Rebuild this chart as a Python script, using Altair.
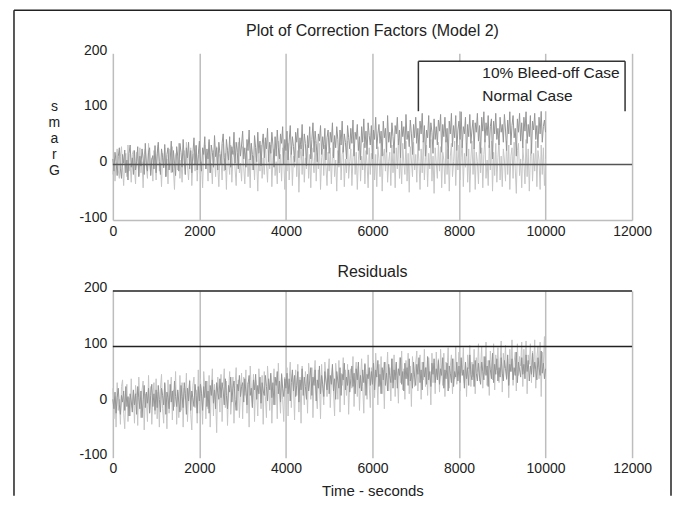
import altair as alt
import pandas as pd

# ---------------- data ----------------
time_s = list(range(0, 10001, 25))

bleed_off = [
    10, -12, 22, 5, -20, 14, 30, -8, -25, 18, 2, 26, -15, 8, -28, 20, 35, -5, 12, -18,
    25, -10, 6, 32, -22, 15, -3, 28, 10, -18, 38, 0, -12, 22, 30, -20, 8, 16, -8, 34,
    -15, 20, 40, 5, -18, 28, 12, -6, 36, -22, 18, 30, -10, 8, 42, -14, 25, 2, -20, 32,
    15, -12, 38, 22, -5, 45, 8, -18, 30, 12, 40, -8, 25, -15, 20, 48, 0, 34, -10, 18,
    42, 5, -12, 30, 18, 50, -8, 28, 10, 45, -15, 35, 22, -5, 52, 14, 30, -10, 40, 20,
    0, 38, 55, 12, -10, 45, 25, 8, 50, -5, 32, 18, 58, 2, 40, 22, -8, 48, 15, 35,
    60, 10, 30, -5, 45, 25, 62, 8, 38, 18, -10, 52, 30, 5, 58, 20, 42, -2, 35, 55,
    12, 48, 28, 65, 5, 40, 20, 58, 35, -5, 50, 15, 62, 30, 10, 55, 38, 68, 0, 45,
    25, 60, 8, 42, 70, 18, 50, 32, 5, 58, 40, 65, 12, 48, 28, 72, 15, 55, 38, -2,
    52, 30, 68, 10, 45, 75, 22, 60, 38, 5, 55, 42, 70, 18, 50, 28, 65, 8, 48, 62,
    20, 58, 40, 75, 12, 52, 30, 68, 45, 2, 62, 35, 78, 22, 55, 40, 10, 70, 48, 28,
    65, 38, 80, 15, 58, 45, 72, 25, 50, 8, 68, 40, 82, 30, 60, 18, 75, 52, 35, 70,
    10, 62, 45, 85, 28, 55, 72, 38, 60, 15, 78, 48, 65, 22, 88, 40, 58, 30, 75, 50,
    20, 70, 55, 85, 35, 62, 12, 78, 50, 68, 28, 90, 45, 60, 32, 80, 55, 18, 72, 48,
    85, 38, 65, 25, 78, 55, 92, 40, 70, 15, 62, 48, 88, 30, 75, 58, 20, 82, 45, 68,
    35, 80, 60, 90, 22, 72, 50, 85, 40, 65, 10, 78, 55, 92, 32, 70, 48, 88, 25, 62,
    78, 45, 95, 30, 68, 55, 85, 15, 72, 50, 90, 38, 62, 80, 28, 75, 58, 92, 42, 70,
    20, 85, 60, 95, 40, 75, 52, 88, 30, 68, 82, 10, 78, 55, 92, 45, 65, 35, 85, 58,
    72, 40, 90, 62, 25, 80, 55, 95, 35, 70, 88, 48, 65, 15, 82, 58, 92, 42, 75, 30,
    85, 60, 95, 38, 72, 50, 88, 20, 78, 62, 92, 45, 70, 30, 85, 55, 96, 40, 68, 80, 58,
]

normal_case = [
    -18, 12, -30, 5, 28, -10, -25, 15, 32, -5, -38, 8, 20, -22, 35, -12, 2, -32, 18, 25,
    -8, -35, 22, 10, -20, 30, -15, 5, -42, 18, 28, -6, -25, 38, 0, -18, 12, -30, 25, 8,
    -28, 15, 35, -12, 2, -40, 20, -5, 30, -22, 10, -35, 28, 5, -15, 32, -8, -45, 18, 22,
    -10, 38, -25, 8, -32, 15, 25, -18, 40, -2, -28, 12, 30, -38, 5, 20, -12, 35, -30, 10,
    28, -20, 5, -42, 22, 35, -8, 15, -30, 40, -15, 2, -35, 25, 10, -22, 32, -5, -40, 18,
    8, -28, 38, -12, 20, -45, 30, 5, -18, 35, -32, 12, 25, -8, -38, 22, 40, -15, 2, -30,
    32, -5, -35, 18, 28, -22, 10, -42, 38, -10, 15, -28, 30, 5, -48, 20, -12, 35, -25, 12,
    -18, 40, 2, -32, 25, -8, 35, -40, 12, 28, -20, 5, -35, 42, -15, 18, -30, 30, 8, -45,
    22, -12, 38, -28, 10, 32, -38, 15, -5, 40, -22, 25, -50, 8, 35, -18, 28, -32, 12, -8,
    35, -25, 18, -42, 30, 5, -15, 42, -30, 20, -8, 38, -45, 12, 28, -20, 35, -5, -38, 22,
    -12, 30, -35, 15, 40, -22, 8, -48, 25, -5, 38, -28, 18, 32, -40, 10, -15, 42, -25, 5,
    28, -38, 12, 35, -18, 22, -45, 8, 40, -30, 15, -10, 38, -35, 25, 2, -42, 30, -18, 20,
    -5, 42, -28, 18, -40, 32, 10, -22, 38, -48, 15, 28, -12, 40, -32, 5, 22, -38, 35, -15,
    25, -42, 30, -8, 45, -25, 12, -35, 38, 2, -18, 42, -30, 20, -50, 32, 8, -22, 40, -10,
    18, -32, 38, 5, -45, 28, -15, 42, -28, 12, 35, -40, 20, -8, 45, -30, 15, -52, 30, 2,
    -25, 40, -12, 32, -42, 22, 8, -35, 45, -18, 28, -48, 15, 38, -22, 5, 42, -38, 25, -10,
    35, -28, 12, 45, -40, 20, -5, 38, -32, 28, -50, 10, 42, -18, 30, -45, 22, 5, -35, 40,
    -15, 30, -42, 18, 45, -25, 8, -38, 35, -10, 42, -48, 22, -20, 38, -32, 12, 45, -28, 15,
    -40, 28, 8, -30, 42, -18, 35, -45, 15, 30, -25, 40, -8, -52, 25, 38, -20, 10, -42, 32,
    5, -35, 45, -22, 28, -48, 15, 38, -30, 20, -12, 42, -40, 25, 8, -45, 35, -18, 30, -38, 10,
]

resid_light = [
    25, -30, 10, -45, 35, -15, 5, -40, 28, 40, -20, -48, 15, 32, -35, 8, -25, 42, -10, 20,
    -38, 30, 12, -42, 45, -5, -28, 22, 38, -50, 15, 5, -35, 48, -18, 28, -40, 10, 35, -22,
    42, -30, 18, -45, 25, 50, -12, -38, 32, 8, -48, 40, -20, 15, 45, -32, 22, -8, 55, -40,
    18, -28, 48, -15, 35, -45, 25, 5, 52, -35, 12, 40, -22, -50, 30, 45, -10, 22, -38, 58,
    -20, 42, 10, -40, 55, 25, -30, 38, -12, 48, -45, 20, 60, -25, 32, 5, -55, 45, 15, -18,
    50, -35, 28, 60, -10, 38, -42, 20, 55, -22, 8, 45, -38, 30, 62, -15, 40, -28, 18, 52,
    -30, 45, 12, 58, -20, 35, -45, 65, 22, -8, 50, -35, 40, 15, -25, 60, 28, -12, 48, -40,
    55, 10, -28, 65, 32, -15, 48, -38, 25, 60, -5, 38, -30, 70, 18, -20, 52, 5, -35, 45,
    20, 62, -25, 40, 72, -10, 50, 28, -32, 58, 12, 68, -18, 45, -38, 65, 30, -5, 55, 38,
    -20, 70, 42, 5, 62, -28, 48, 75, 15, -12, 58, 35, -30, 68, 25, -5, 72, 45, 10, 55,
    78, -10, 40, 62, 20, -25, 70, 48, 5, 75, -18, 52, 30, 80, -5, 58, 12, 68, -22, 45,
    60, 25, 82, -8, 50, 72, 10, 65, -15, 42, 78, 28, -20, 70, 55, 5, 85, 32, -10, 62,
    40, 75, 8, 88, 50, -5, 68, 30, 82, 15, 58, -12, 72, 45, 90, 20, 62, 2, 78, 35,
    85, 10, 68, 48, -2, 80, 35, 92, 22, 60, 5, 75, 42, 88, 15, 65, -8, 82, 50, 28,
    70, 92, 20, 58, 85, 5, 72, 40, 95, 28, 62, 12, 80, 48, -5, 88, 35, 70, 15, 90,
    45, 78, 18, 95, 55, 30, 88, 10, 72, 60, 98, 25, 65, 85, 15, 78, 42, 100, 32, 58,
    90, 20, 75, 52, 98, 35, 68, 10, 85, 60, 102, 28, 72, 45, 95, 15, 80, 55, 105, 38,
    65, 100, 25, 82, 50, 108, 30, 75, 12, 92, 60, 40, 105, 22, 85, 58, 98, 35, 70, 110,
    18, 88, 62, 102, 40, 78, 8, 95, 55, 112, 30, 72, 90, 20, 105, 48, 82, 65, 108, 28,
    95, 52, 110, 15, 85, 68, 105, 35, 92, 60, 112, 25, 80, 100, 42, 108, 10, 90, 65, 118, 40,
]

resid_dark = [
    5, -12, 18, -20, 8, 25, -5, -22, 12, 0, 20, -15, 28, -8, 10, -25, 15, 2, -18, 22,
    -5, 15, -22, 28, 8, -12, 20, -28, 5, 30, -10, 18, -2, 25, -20, 12, 32, -8, 15, -15,
    22, -10, 30, 5, -18, 25, 12, -5, 35, -22, 18, 8, -12, 32, 0, 20, -15, 38, 10, -8,
    22, 0, -18, 30, 10, -10, 35, 15, -22, 25, 2, 38, -15, 20, 8, -8, 32, 12, -20, 28,
    2, 32, 15, -15, 28, 8, 38, -8, 20, -20, 30, 12, 40, -2, 22, -12, 35, 18, 5, 42,
    8, 35, 20, -5, 42, 12, -12, 30, 18, 45, 0, 25, 38, 5, -15, 32, 20, 48, 10, 28,
    35, 0, 42, 18, -5, 32, 48, 12, 25, -10, 40, 22, 50, 5, 30, 15, 45, -2, 35, 20,
    12, 48, 28, 2, 42, 22, 52, 8, 35, -5, 45, 30, 55, 15, 38, 0, 50, 25, 10, 42,
    25, 52, 15, 42, 2, 35, 58, 20, 48, 10, 30, 55, 0, 40, 22, 60, 12, 45, 28, 5,
    50, 20, 38, 62, 12, 45, 30, 58, 2, 40, 25, 65, 15, 48, 32, 10, 55, 38, 22, 60,
    15, 48, 32, 68, 20, 42, 5, 55, 38, 25, 62, 12, 50, 40, 70, 22, 45, 30, 58, 18,
    42, 65, 28, 52, 15, 60, 40, 72, 25, 48, 20, 58, 35, 68, 12, 50, 42, 62, 30, 55,
    32, 70, 22, 58, 45, 75, 28, 50, 15, 62, 40, 72, 30, 52, 20, 68, 48, 35, 78, 25,
    58, 40, 72, 25, 60, 48, 80, 32, 55, 20, 70, 42, 62, 30, 78, 38, 52, 25, 72, 45,
    30, 68, 50, 80, 35, 58, 22, 72, 45, 62, 32, 82, 40, 55, 28, 70, 50, 78, 35, 60,
    40, 75, 32, 60, 48, 80, 25, 58, 42, 70, 20, 65, 52, 35, 78, 28, 55, 45, 72, 38,
    65, 35, 80, 48, 58, 25, 72, 42, 62, 30, 85, 50, 40, 68, 28, 75, 52, 38, 70, 45,
    32, 72, 55, 40, 82, 48, 65, 28, 75, 58, 42, 88, 35, 68, 50, 78, 38, 62, 45, 80,
    52, 38, 75, 60, 42, 85, 30, 68, 55, 78, 40, 62, 48, 90, 35, 72, 58, 45, 80, 50,
    68, 42, 85, 55, 75, 38, 65, 50, 88, 45, 72, 58, 40, 80, 62, 48, 92, 52, 70, 42, 60,
]

x_ticks = [0, 2000, 4000, 6000, 8000, 10000, 12000]
y_ticks = [-100, 0, 100, 200]
zero_line = [0]
limit_lines = [100, 200]
legend_labels = ["10% Bleed-off Case", "Normal Case"]
panel_titles = ["Plot of Correction Factors (Model 2)", "Residuals"]
y_title_letters = ["s", "m", "a", "r", "G"]   # "Grams" stacked bottom-to-top
x_title = "Time - seconds"

for s in (bleed_off, normal_case, resid_light, resid_dark):
    assert len(s) == len(time_s), len(s)

# ---------------- styling ----------------
FONT = "Liberation Sans"
TXT = "#222222"
GRID = "#bdbdbd"
LIGHT = "#c6c6c6"
DARK = "#969696"
W, H = 520, 167

xscale = alt.Scale(domain=[0, 12000], nice=False, zero=False)
yscale = alt.Scale(domain=[-100, 200], nice=False)
LABEL_EXPR = "toString(datum.value)"


def x_axis(domain, title=None):
    kw = dict(values=x_ticks, grid=True, gridColor=GRID, gridWidth=1.5, ticks=False,
              domain=domain, domainColor=GRID, domainWidth=1.5, labelFont=FONT,
              labelFontSize=14, labelColor=TXT, labelPadding=11, labelBaseline="middle",
              labelFlush=False, labelExpr=LABEL_EXPR)
    if title:
        kw.update(title=title, titleFont=FONT, titleFontSize=15, titleFontWeight="normal",
                  titleColor=TXT, titleBaseline="alphabetic", titleY=38)
    else:
        kw.update(title=None)
    return alt.Axis(**kw)


def y_axis(title=None):
    kw = dict(values=y_ticks, grid=False, ticks=False, domain=False, labelFont=FONT,
              labelFontSize=14, labelColor=TXT, labelPadding=6, labelBaseline="middle",
              labelOffset=-3, labelFlush=False, labelExpr=LABEL_EXPR)
    if title:
        kw.update(title=title, titleAngle=0, titleFont=FONT, titleFontSize=14,
                  titleFontWeight="normal", titleColor=TXT, titleAlign="center",
                  titleBaseline="middle", titleLineHeight=16, titleX=-59, titleY=53)
    else:
        kw.update(title=None)
    return alt.Axis(**kw)


def line_layer(values, color, xa, ya):
    df = pd.DataFrame({"time": time_s, "value": values})
    return alt.Chart(df).mark_line(color=color, strokeWidth=1).encode(
        x=alt.X("time:Q", scale=xscale, axis=xa),
        y=alt.Y("value:Q", scale=yscale, axis=ya),
    )


def hrule_layer(values, color, ya):
    df = pd.DataFrame({"value": values})
    return alt.Chart(df).mark_rule(color=color, strokeWidth=1.5).encode(
        y=alt.Y("value:Q", scale=yscale, axis=ya)
    )


one = alt.Data(values=[{"k": 1}])


def deco_rule(color, width, **enc):
    return alt.Chart(one).mark_rule(color=color, strokeWidth=width).encode(
        **{k: alt.value(v) for k, v in enc.items()}
    )


def deco_text(text, x, y, size, align="center"):
    return alt.Chart(one).mark_text(align=align, baseline="middle", font=FONT,
                                    fontSize=size, color=TXT).encode(
        x=alt.value(x), y=alt.value(y), text=alt.value(text))


# ---------------- top panel ----------------
xa_top = x_axis(True)
ya_top = y_axis(y_title_letters)

legend_box = alt.Chart(one).mark_rect(color="white").encode(
    x=alt.value(306), x2=alt.value(513), y=alt.value(8), y2=alt.value(58)
)

top = alt.layer(
    line_layer(normal_case, LIGHT, xa_top, ya_top),
    line_layer(bleed_off, DARK, xa_top, ya_top),
    hrule_layer(zero_line, "#555555", ya_top),
    legend_box,
    deco_rule("#333333", 1.5, x=306, x2=513, y=8),
    deco_rule("#333333", 1.5, x=306, y=8, y2=58),
    deco_rule("#333333", 1.5, x=513, y=8, y2=58),
    deco_text(legend_labels[0], 370, 20, 15.5, "left"),
    deco_text(legend_labels[1], 370, 43, 15.5, "left"),
    deco_text(panel_titles[0], 260, -22, 16),
    # outer frame of the figure
    deco_rule("#222222", 1.5, x=-99, y=-43, y2=443),
    deco_rule("#222222", 1.5, x=-99, x2=559, y=-43),
    deco_rule("#222222", 1.5, x=559, y=-43, y2=443),
).properties(width=W, height=H)

# ---------------- bottom panel ----------------
xa_bot = x_axis(False, x_title)
ya_bot = y_axis()

bottom = alt.layer(
    line_layer(resid_light, LIGHT, xa_bot, ya_bot),
    line_layer(resid_dark, DARK, xa_bot, ya_bot),
    hrule_layer(limit_lines, "#222222", ya_bot),
    deco_text(panel_titles[1], 260, -19, 16),
).properties(width=W, height=H)

chart = alt.vconcat(top, bottom, spacing=71, bounds="flush").properties(
    padding={"left": 5, "top": 1, "right": 0, "bottom": 0},
).configure_view(stroke=None)

chart.save("out.html", embed_options={"renderer": "svg", "actions": False})
